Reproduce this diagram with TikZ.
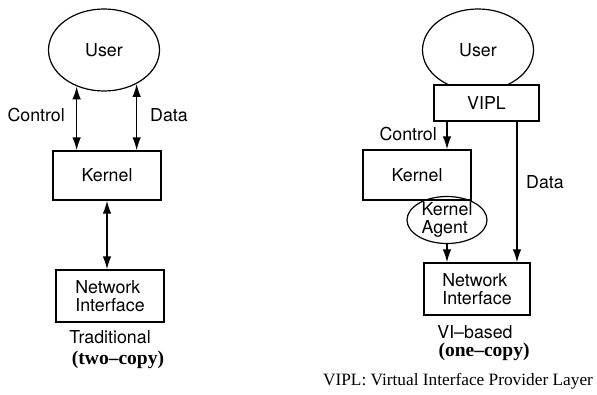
\documentclass[tikz,border=0pt]{standalone}
\usepackage{fontspec}
\setmainfont{Liberation Serif}
\setsansfont{TeX Gyre Heros}
\usetikzlibrary{arrows.meta}
\usetikzlibrary{shapes.geometric}
\newcommand{\boxfont}{\sffamily\fontsize{17.8}{18.5}\selectfont}
\tikzset{box/.style = {draw, line width=1.2pt, inner sep=0, font=\boxfont, align=left}}
\tikzset{blob/.style = {draw, ellipse, line width=1.2pt, inner xsep=0, inner ysep=-3pt,
                        font=\boxfont, align=left}}
\tikzset{tag/.style = {font=\boxfont, inner sep=0}}
\tikzset{bold/.style = {font=\fontsize{19.5}{20}\selectfont\bfseries, inner sep=0}}
\tikzset{note/.style = {font=\fontsize{17.3}{18}\selectfont, inner sep=0}}
\tikzset{link/.style = {line width=1.5pt, -{Latex[length=13pt, width=8.5pt]}}}
\tikzset{twoway/.style = {line width=1.5pt,
                          {Latex[length=13pt, width=8.5pt]}-{Latex[length=13pt, width=8.5pt]}}}

\begin{document}
\begin{tikzpicture}[x=1pt, y=-1pt]
  \useasboundingbox (0,0) rectangle (597,395);

  % two-copy path
  \node [blob, minimum width=111, minimum height=82] (user1) at (104,50) {User};
  \node [box, minimum width=108, minimum height=49] (kern1) at (107,175.5) {Kernel};
  \node [box, minimum width=108, minimum height=52] (nif1) at (110,296) {Network\\Interface};

  \draw [twoway] (user1.233) -- (user1.233 |- kern1.north);
  \draw [twoway] (user1.314) -- (user1.314 |- kern1.north);
  \draw [twoway] (kern1.south) -- (kern1.south |- nif1.north);

  \node [tag, anchor=east] (ctl1) at (65,115) {Control};
  \node [tag, anchor=west] (dat1) at (150,115) {Data};
  \node [tag] (trad) at (110,337) {Traditional};
  \node [bold] (two) at (118,360) {(two\textendash copy)};

  % one-copy path
  \node [blob, minimum width=111, minimum height=82] (user2) at (478,50) {User};
  \node [box, fill=white, minimum width=105, minimum height=36] (vipl) at (486.5,103) {VIPL};
  \node [box, minimum width=108, minimum height=50] (kern2) at (417,175) {Kernel};
  \node [blob, minimum width=80, minimum height=47] (agent) at (447,220) {Kernel\\Agent};
  \node [box, minimum width=106, minimum height=52] (nif2) at (477,289) {Network\\Interface};
  \coordinate (dpath) at (517,0);

  \draw [link] (vipl.south -| agent.north) -- (kern2.north -| agent.north);
  \draw [link] (agent.south) -- (agent.south |- nif2.north);
  \draw [link] (vipl.south -| dpath) -- (nif2.north -| dpath);

  \node [tag, anchor=east] (ctl2) at (437,134) {Control};
  \node [tag, anchor=west] (dat2) at (526,182) {Data};
  \node [tag] (vib) at (475,332) {VI\textendash based};
  \node [bold] (one) at (484,352) {(one\textendash copy)};

  \node [note] (key) at (458,381) {VIPL: Virtual Interface Provider Layer};
\end{tikzpicture}
\end{document}
